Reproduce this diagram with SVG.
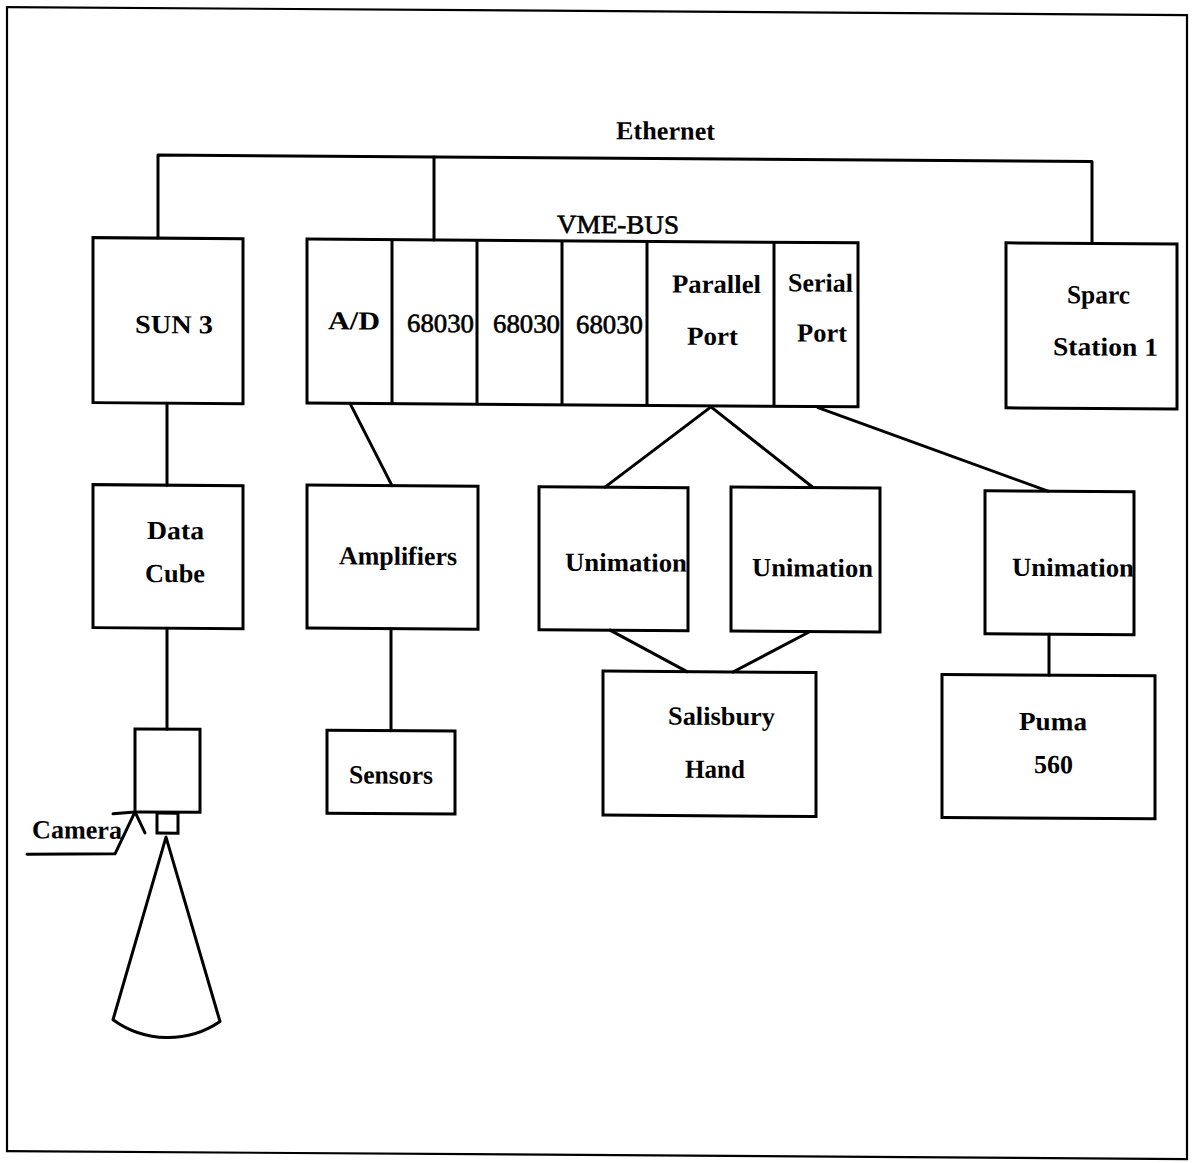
<svg xmlns="http://www.w3.org/2000/svg" width="1193" height="1163" viewBox="0 0 1193 1163">
  <style>
    .box { fill: none; stroke: #000; stroke-width: 3; }
    .wire { fill: none; stroke: #000; stroke-width: 3; stroke-linecap: round; stroke-linejoin: round; }
    .frame { fill: none; stroke: #000; stroke-width: 2.2; }
    text { font-family: "Liberation Serif", "Times New Roman", serif; font-size: 26px; fill: #000; }
    .b { font-weight: bold; }
    .r { font-weight: normal; stroke: #000; stroke-width: 0.6; }
  </style>
  <rect width="1193" height="1163" fill="#fff"/>
  <!-- the whole sheet is slightly sheared, as on the scanned page -->
  <g transform="matrix(1 0.0068 0 1 0 0)">
    <rect class="frame" x="7" y="7" width="1180" height="1144"/>

    <g id="connectors">
      <!-- Ethernet backbone and drops -->
      <polyline class="wire" points="158,237 158,154 1092,154 1092,236"/>
      <line class="wire" x1="434" y1="154" x2="434" y2="237"/>
      <!-- SUN 3 to Data Cube to camera -->
      <line class="wire" x1="167" y1="402" x2="167" y2="484"/>
      <line class="wire" x1="167" y1="627" x2="167" y2="728"/>
      <!-- A/D to Amplifiers to Sensors -->
      <line class="wire" x1="350" y1="401" x2="392" y2="483"/>
      <line class="wire" x1="391" y1="626" x2="391" y2="728"/>
      <!-- Parallel port to the two hand controllers -->
      <polyline class="wire" points="605,483 711,402 813,482"/>
      <!-- Serial port to the arm controller -->
      <line class="wire" x1="818" y1="402" x2="1048" y2="484"/>
      <!-- Hand controllers to Salisbury Hand -->
      <line class="wire" x1="610" y1="626" x2="687" y2="667"/>
      <line class="wire" x1="810" y1="626" x2="733" y2="667"/>
      <!-- Arm controller to Puma 560 -->
      <line class="wire" x1="1049" y1="627" x2="1049" y2="668"/>
    </g>

    <text class="b" x="616" y="135" textLength="99" lengthAdjust="spacingAndGlyphs">Ethernet</text>

    <g id="sun3">
      <rect class="box" x="93" y="237" width="150" height="165"/>
      <text class="b" x="135" y="332" textLength="78" lengthAdjust="spacingAndGlyphs">SUN 3</text>
    </g>

    <g id="vme-bus">
      <text class="r" x="557" y="229" textLength="122" lengthAdjust="spacingAndGlyphs">VME-BUS</text>
      <rect class="box" x="307" y="237" width="551" height="164"/>
      <line class="box" x1="392" y1="237" x2="392" y2="401"/>
      <line class="box" x1="477" y1="237" x2="477" y2="401"/>
      <line class="box" x1="562" y1="237" x2="562" y2="401"/>
      <line class="box" x1="647" y1="237" x2="647" y2="401"/>
      <line class="box" x1="774" y1="237" x2="774" y2="401"/>
      <text class="b" x="328" y="327" textLength="52" lengthAdjust="spacingAndGlyphs">A/D</text>
      <text class="r" x="407" y="329" textLength="67" lengthAdjust="spacingAndGlyphs">68030</text>
      <text class="r" x="493" y="329" textLength="67" lengthAdjust="spacingAndGlyphs">68030</text>
      <text class="r" x="576" y="329" textLength="67" lengthAdjust="spacingAndGlyphs">68030</text>
      <text class="b" x="672" y="288" textLength="89" lengthAdjust="spacingAndGlyphs">Parallel</text>
      <text class="b" x="687" y="340" textLength="51" lengthAdjust="spacingAndGlyphs">Port</text>
      <text class="b" x="788" y="286" textLength="65" lengthAdjust="spacingAndGlyphs">Serial</text>
      <text class="b" x="797" y="336" textLength="50" lengthAdjust="spacingAndGlyphs">Port</text>
    </g>

    <g id="sparc-station">
      <rect class="box" x="1006" y="236" width="171" height="165"/>
      <text class="b" x="1067" y="296" textLength="63" lengthAdjust="spacingAndGlyphs">Sparc</text>
      <text class="b" x="1053" y="348" textLength="105" lengthAdjust="spacingAndGlyphs">Station 1</text>
    </g>

    <g id="data-cube">
      <rect class="box" x="93" y="484" width="150" height="143"/>
      <text class="b" x="147" y="538" textLength="57" lengthAdjust="spacingAndGlyphs">Data</text>
      <text class="b" x="145" y="581" textLength="60" lengthAdjust="spacingAndGlyphs">Cube</text>
    </g>

    <g id="amplifiers">
      <rect class="box" x="307" y="483" width="171" height="143"/>
      <text class="b" x="339" y="562" textLength="118" lengthAdjust="spacingAndGlyphs">Amplifiers</text>
    </g>

    <g id="sensors">
      <rect class="box" x="327" y="728" width="128" height="83"/>
      <text class="b" x="349" y="781" textLength="84" lengthAdjust="spacingAndGlyphs">Sensors</text>
    </g>

    <g id="unimation-1">
      <rect class="box" x="539" y="483" width="149" height="143"/>
      <text class="b" x="565" y="567" textLength="122" lengthAdjust="spacingAndGlyphs">Unimation</text>
    </g>

    <g id="unimation-2">
      <rect class="box" x="731" y="482" width="149" height="144"/>
      <text class="b" x="752" y="571" textLength="121" lengthAdjust="spacingAndGlyphs">Unimation</text>
    </g>

    <g id="unimation-3">
      <rect class="box" x="985" y="484" width="149" height="143"/>
      <text class="b" x="1012" y="569" textLength="122" lengthAdjust="spacingAndGlyphs">Unimation</text>
    </g>

    <g id="salisbury-hand">
      <rect class="box" x="603" y="667" width="213" height="144"/>
      <text class="b" x="668" y="720" textLength="107" lengthAdjust="spacingAndGlyphs">Salisbury</text>
      <text class="b" x="685" y="773" textLength="60" lengthAdjust="spacingAndGlyphs">Hand</text>
    </g>

    <g id="puma-560">
      <rect class="box" x="942" y="668" width="213" height="143"/>
      <text class="b" x="1019" y="723" textLength="68" lengthAdjust="spacingAndGlyphs">Puma</text>
      <text class="b" x="1034" y="766" textLength="39" lengthAdjust="spacingAndGlyphs">560</text>
    </g>

    <g id="camera">
      <rect class="box" x="135" y="728" width="65" height="83"/>
      <rect class="box" x="157" y="812" width="21" height="20"/>
      <!-- field of view -->
      <path class="wire" d="M166,836 L113,1019 A93,93 0 0,0 220,1020 Z"/>
      <!-- label leader with open arrowhead at the body corner -->
      <polyline class="wire" points="27,854 115,853 135,811"/>
      <polyline class="wire" points="113,813 135,811 145,832"/>
      <text class="b" x="32" y="838" textLength="90" lengthAdjust="spacingAndGlyphs">Camera</text>
    </g>
  </g>
</svg>
